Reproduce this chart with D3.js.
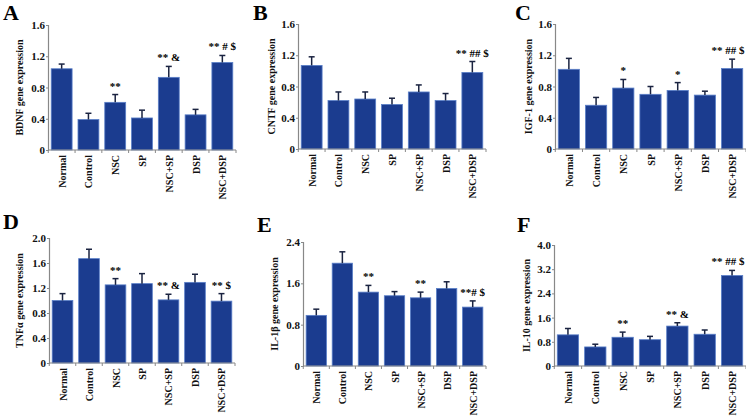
<!DOCTYPE html>
<html>
<head>
<meta charset="utf-8">
<script src="https://cdn.jsdelivr.net/npm/d3@7"></script>
<style>
  body { margin: 0; background: #fff; }
  svg text { font-family: "Liberation Serif", "Times New Roman", serif; font-weight: bold; }
</style>
</head>
<body>
<div id="chart"></div>
<script>
// groups on the x axis
const groups = ["Normal", "Control", "NSC", "SP", "NSC+SP", "DSP", "NSC+DSP"];

// mean values
const bdnfValues = [1.04, 0.39, 0.61, 0.41, 0.93, 0.45, 1.12];
const cntfValues = [1.07, 0.62, 0.64, 0.57, 0.73, 0.62, 0.98];
const igfValues = [1.02, 0.56, 0.78, 0.70, 0.75, 0.69, 1.03];
const tnfValues = [1.00, 1.67, 1.25, 1.27, 1.01, 1.29, 0.99];
const il1bValues = [0.98, 1.99, 1.43, 1.36, 1.32, 1.50, 1.14];
const il10Values = [1.03, 0.63, 0.95, 0.87, 1.32, 1.05, 2.99];

// error bar sizes (upper half only)
const bdnfErr = [0.06, 0.08, 0.10, 0.10, 0.14, 0.07, 0.09];
const cntfErr = [0.11, 0.11, 0.09, 0.08, 0.09, 0.09, 0.14];
const igfErr = [0.14, 0.10, 0.11, 0.10, 0.10, 0.05, 0.12];
const tnfErr = [0.11, 0.15, 0.10, 0.16, 0.09, 0.13, 0.12];
const il1bErr = [0.12, 0.22, 0.13, 0.08, 0.11, 0.13, 0.12];
const il10Err = [0.21, 0.09, 0.17, 0.11, 0.11, 0.14, 0.17];

// significance marks above the bars
const bdnfMarks = ["", "", "**", "", "** &", "", "** # $"];
const cntfMarks = ["", "", "", "", "", "", "** ## $"];
const igfMarks = ["", "", "*", "", "*", "", "** ## $"];
const tnfMarks = ["", "", "**", "", "** &", "", "** $"];
const il1bMarks = ["", "", "**", "", "**", "", "**# $"];
const il10Marks = ["", "", "**", "", "** &", "", "** ## $"];

// y tick values
const ticks16 = [0, 0.4, 0.8, 1.2, 1.6];
const ticks20 = [0, 0.4, 0.8, 1.2, 1.6, 2.0];
const ticks24 = [0, 0.8, 1.6, 2.4];
const ticks40 = [0, 0.8, 1.6, 2.4, 3.2, 4.0];

const width = 746;
const height = 417;
const barColor = "#1b3c8f";

const svg = d3.select("#chart")
  .append("svg")
  .attr("width", width)
  .attr("height", height);

const panels = [
  { letter: "A", lx: 3, ly: 20, title: "BDNF gene expression", values: bdnfValues, err: bdnfErr, marks: bdnfMarks, ticks: ticks16, x0: 48, x1: 236, top: 25, bottom: 150, tx: 23 },
  { letter: "B", lx: 253, ly: 20, title: "CNTF gene expression", values: cntfValues, err: cntfErr, marks: cntfMarks, ticks: ticks16, x0: 298, x1: 486, top: 24, bottom: 149, tx: 275 },
  { letter: "C", lx: 515, ly: 20, title: "IGF-1 gene expression", values: igfValues, err: igfErr, marks: igfMarks, ticks: ticks16, x0: 555, x1: 746, top: 24, bottom: 149, tx: 532 },
  { letter: "D", lx: 3, ly: 229, title: "TNFα gene expression", values: tnfValues, err: tnfErr, marks: tnfMarks, ticks: ticks20, x0: 49, x1: 235, top: 238, bottom: 363, tx: 23 },
  { letter: "E", lx: 257, ly: 232, title: "IL-1β gene expression", values: il1bValues, err: il1bErr, marks: il1bMarks, ticks: ticks24, x0: 303, x1: 486, top: 242, bottom: 366, tx: 278 },
  { letter: "F", lx: 517, ly: 232, title: "IL-10 gene expression", values: il10Values, err: il10Err, marks: il10Marks, ticks: ticks40, x0: 554, x1: 746, top: 245, bottom: 366, tx: 530 },
];

panels.forEach(drawPanel);

function drawPanel(p) {
  const g = svg.append("g");

  const x = d3.scaleBand()
    .domain(groups)
    .range([p.x0, p.x1])
    .paddingInner(0.22)
    .paddingOuter(0.12);

  const y = d3.scaleLinear()
    .domain([0, d3.max(p.ticks)])
    .range([p.bottom, p.top]);

  // panel letter
  g.append("text")
    .attr("x", p.lx)
    .attr("y", p.ly)
    .attr("font-size", "22px")
    .attr("fill", "#000")
    .text(p.letter);

  // y axis
  const yAxis = d3.axisLeft(y)
    .tickValues(p.ticks)
    .tickSize(2)
    .tickFormat((d) => (d === 0 ? "0" : d.toFixed(1)));
  const ya = g.append("g")
    .attr("transform", `translate(${p.x0}, 0)`)
    .call(yAxis);
  ya.select(".domain").attr("stroke", "#888").attr("stroke-width", 1.2);
  ya.selectAll(".tick line").attr("stroke", "#888");
  ya.selectAll(".tick text")
    .attr("font-size", "11px")
    .attr("font-family", "Liberation Serif, serif")
    .attr("fill", "#111")
    .attr("x", -3);

  // bars
  g.selectAll("rect.bar")
    .data(p.values)
    .enter()
    .append("rect")
    .attr("class", "bar")
    .attr("x", (d, i) => x(groups[i]))
    .attr("y", (d) => y(d))
    .attr("width", x.bandwidth())
    .attr("height", (d) => p.bottom - y(d))
    .attr("fill", barColor)
    .attr("stroke", "#5a7fc8")
    .attr("stroke-width", 0.8);

  // error bars, upper half
  const eb = g.append("g").attr("class", "err");
  eb.selectAll("line.stem")
    .data(p.values)
    .enter()
    .append("line")
    .attr("x1", (d, i) => x(groups[i]) + x.bandwidth() / 2)
    .attr("x2", (d, i) => x(groups[i]) + x.bandwidth() / 2)
    .attr("y1", (d) => y(d))
    .attr("y2", (d, i) => y(d + p.err[i]))
    .attr("stroke", "#1a2340")
    .attr("stroke-width", 1.5);
  eb.selectAll("line.cap")
    .data(p.values)
    .enter()
    .append("line")
    .attr("x1", (d, i) => x(groups[i]) + x.bandwidth() / 2 - 3)
    .attr("x2", (d, i) => x(groups[i]) + x.bandwidth() / 2 + 3)
    .attr("y1", (d, i) => y(d + p.err[i]))
    .attr("y2", (d, i) => y(d + p.err[i]))
    .attr("stroke", "#1a2340")
    .attr("stroke-width", 1.5);

  // significance marks, kept inside the page on the right
  g.selectAll("text.mark")
    .data(p.marks)
    .enter()
    .append("text")
    .attr("x", (d, i) => Math.min(x(groups[i]) + x.bandwidth() / 2, width - 18))
    .attr("y", (d, i) => y(p.values[i] + p.err[i]) - 5)
    .attr("text-anchor", "middle")
    .attr("font-size", "11px")
    .attr("fill", "#000")
    .text((d) => d);

  // x axis line with small ticks between groups
  const xa = g.append("g").attr("transform", `translate(0, ${p.bottom})`);
  xa.append("line")
    .attr("x1", p.x0)
    .attr("x2", p.x1)
    .attr("stroke", "#888")
    .attr("stroke-width", 1.2);
  const edges = groups.map((d) => x(d) - (x.step() - x.bandwidth()) / 2).concat([p.x1]);
  xa.selectAll("line.tk")
    .data(edges)
    .enter()
    .append("line")
    .attr("x1", (d) => d)
    .attr("x2", (d) => d)
    .attr("y1", 0)
    .attr("y2", 3)
    .attr("stroke", "#888");

  // rotated group labels
  xa.selectAll("text.lab")
    .data(groups)
    .enter()
    .append("text")
    .attr("transform", (d) => `translate(${x(d) + x.bandwidth() / 2 + 4}, 5) rotate(-90)`)
    .attr("text-anchor", "end")
    .attr("font-size", "10px")
    .attr("fill", "#111")
    .text((d) => d);

  // y axis title
  g.append("text")
    .attr("transform", `translate(${p.tx}, ${(p.top + p.bottom) / 2}) rotate(-90)`)
    .attr("text-anchor", "middle")
    .attr("font-size", "10px")
    .attr("fill", "#111")
    .text(p.title);
}
</script>
</body>
</html>
